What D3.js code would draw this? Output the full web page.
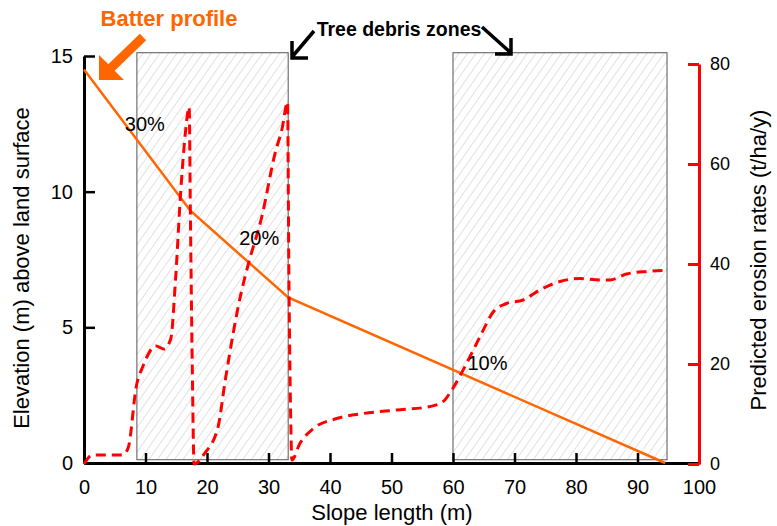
<!DOCTYPE html>
<html>
<head>
<meta charset="utf-8">
<script src="https://cdn.jsdelivr.net/npm/d3@7"></script>
<style>
  body { margin: 0; background: #fff; }
  svg { display: block; font-family: "Liberation Sans", Arial, sans-serif; }
</style>
</head>
<body>
<svg width="777" height="526"></svg>
<script>
// batter profile (elevation, left axis)
var profileX = [0, 17.3, 33.2, 94.5];
var profileY = [14.5, 9.3, 6.1, 0];

// predicted erosion (right axis)
var erosionX = [0, 1.4, 6.3, 7.2, 8.5, 9.6, 11.7, 13.0, 14.1, 14.9, 15.7, 16.5, 17.1, 17.3, 17.6, 17.9,
  19.6, 21.8, 22.9, 25.6, 26.7, 28.9, 31.1, 32.2, 33.1, 33.3, 33.6, 33.8,
  35.1, 37.3, 41.1, 45.4, 50.8, 56.3, 58.4, 59.8, 62.2, 64.4, 66.6, 68.7, 71.4, 74.1, 77.4, 80.7, 83.9, 85.5, 88.2, 91.5, 94.2];
var erosionY = [0, 1.8, 1.8, 3.3, 15.5, 19.6, 23.6, 23.0, 25, 37.2, 54, 66.4, 71.4, 50, 20, 0,
  2.1, 7.4, 16.2, 34.5, 39.9, 49.4, 62.3, 67, 72.4, 40, 10, 0.8,
  4.1, 7.1, 9.1, 10.1, 10.8, 11.5, 12.5, 14.8, 20.1, 25.5, 30.5, 32.1, 32.8, 34.8, 36.5, 37.1, 36.8, 36.8, 38, 38.5, 38.7];

// tree debris zones (slope length)
var zoneStart = [8.6, 60];
var zoneEnd = [33.2, 94.8];

var gradeLabels = ["30%", "20%", "10%"];
var gradeAt = [[9.9, 12.5], [28.5, 8.3], [65.6, 3.7]];

var xTicks = d3.range(0, 101, 10);
var elevTicks = [0, 5, 10, 15];
var erosionTicks = [0, 20, 40, 60, 80];

var svg = d3.select("svg");
var orange = "#ff6600", red = "#ff0000";

var x = d3.scaleLinear().domain([0, 100]).range([84, 699]);
var y = d3.scaleLinear().domain([0, 15]).range([463, 56]);
var y2 = d3.scaleLinear().domain([0, 80]).range([464, 64]);

// hatch
var defs = svg.append("defs");
defs.append("pattern")
  .attr("id", "hatch")
  .attr("patternUnits", "userSpaceOnUse")
  .attr("width", 7).attr("height", 7)
  .attr("patternTransform", "rotate(35)")
  .append("line")
  .attr("x1", 0).attr("y1", 0).attr("x2", 0).attr("y2", 7)
  .attr("stroke", "#c4c4c4").attr("stroke-width", 1);

var zones = zoneStart.map(function(d, i) { return [d, zoneEnd[i]]; });
svg.selectAll("rect.zone")
  .data(zones)
  .enter().append("rect")
  .attr("class", "zone")
  .attr("x", function(d) { return x(d[0]); })
  .attr("width", function(d) { return x(d[1]) - x(d[0]); })
  .attr("y", y(15.12))
  .attr("height", y(0.12) - y(15.12))
  .attr("fill", "url(#hatch)")
  .attr("stroke", "#555")
  .attr("stroke-width", 1);

// axes
var gx = svg.append("g").attr("transform", "translate(0," + y(0) + ")");
gx.call(d3.axisBottom(x).tickValues(d3.range(5, 100, 10)).tickSize(-6).tickSizeOuter(0).tickFormat(""));
gx.call(d3.axisBottom(x).tickValues(xTicks).tickSize(-10).tickSizeOuter(0).tickPadding(17));
gx.selectAll(".domain").attr("stroke-width", 3);
gx.selectAll(".tick line").attr("stroke-width", 2.5);

var gy = svg.append("g").attr("transform", "translate(" + x(0) + ",0)");
gy.call(d3.axisLeft(y).tickValues(d3.range(0, 16, 1)).tickSize(-7).tickSizeOuter(0).tickFormat(""));
gy.call(d3.axisLeft(y).tickValues(elevTicks).tickSize(-11).tickSizeOuter(0).tickPadding(11));
gy.selectAll(".domain").attr("stroke-width", 3);
gy.selectAll(".tick line").attr("stroke-width", 2.5);

var gy2 = svg.append("g").attr("transform", "translate(" + x(100) + ",0)");
gy2.call(d3.axisRight(y2).tickValues(d3.range(10, 80, 20)).tickSize(-6).tickSizeOuter(0).tickFormat(""));
gy2.call(d3.axisRight(y2).tickValues(erosionTicks).tickSize(-11).tickSizeOuter(0).tickPadding(11));
gy2.selectAll(".domain").attr("stroke", red).attr("stroke-width", 3);
gy2.selectAll(".tick line").attr("stroke", red).attr("stroke-width", 3);

svg.selectAll(".tick text").attr("font-size", 20).attr("fill", "#000");
gy2.selectAll(".tick text").attr("font-size", 18);
svg.selectAll("g").attr("font-family", null);

// profile line
var profile = profileX.map(function(d, i) { return [d, profileY[i]]; });
svg.append("path")
  .datum(profile)
  .attr("fill", "none")
  .attr("stroke", orange)
  .attr("stroke-width", 2.5)
  .attr("d", d3.line().x(function(d) { return x(d[0]); }).y(function(d) { return y(d[1]); }));

// erosion line
var erosion = erosionX.map(function(d, i) { return [d, erosionY[i]]; });
svg.append("path")
  .datum(erosion)
  .attr("fill", "none")
  .attr("stroke", red)
  .attr("stroke-width", 3)
  .attr("stroke-dasharray", "10,6")
  .attr("d", d3.line().curve(d3.curveMonotoneX)
    .x(function(d) { return x(d[0]); }).y(function(d) { return y2(d[1]); }));

// grade labels
svg.selectAll("text.grade")
  .data(gradeLabels)
  .enter().append("text")
  .attr("class", "grade")
  .attr("x", function(d, i) { return x(gradeAt[i][0]); })
  .attr("y", function(d, i) { return y(gradeAt[i][1]); })
  .attr("dy", "0.35em")
  .attr("text-anchor", "middle")
  .attr("font-size", 20)
  .text(function(d) { return d; });

// axis titles
svg.append("text")
  .attr("x", 392).attr("y", 520)
  .attr("text-anchor", "middle")
  .attr("font-size", 22)
  .text("Slope length (m)");

svg.append("text")
  .attr("transform", "translate(29,268) rotate(-90)")
  .attr("text-anchor", "middle")
  .attr("font-size", 22)
  .text("Elevation (m) above land surface");

svg.append("text")
  .attr("transform", "translate(766,260) rotate(-90)")
  .attr("text-anchor", "middle")
  .attr("font-size", 22)
  .text("Predicted erosion rates (t/ha/y)");

// annotations
svg.append("text")
  .attr("x", 169).attr("y", 26)
  .attr("text-anchor", "middle")
  .attr("font-size", 22).attr("font-weight", "bold")
  .attr("fill", orange)
  .text("Batter profile");

svg.append("polygon")
  .attr("points", "99,80 99,55 108.3,64.3 139.8,33.8 146.2,40.2 114.7,70.7 124,80")
  .attr("fill", orange);

svg.append("text")
  .attr("x", 399).attr("y", 36)
  .attr("text-anchor", "middle")
  .attr("font-size", 19.5).attr("font-weight", "bold")
  .text("Tree debris zones");

var arrowPaths = ["M314,31 L292,57 M292,41 L292,58 L308,58", "M482,27 L511,53 M511,38 L511,54 L495,54"];
svg.selectAll("path.arrow")
  .data(arrowPaths)
  .enter().append("path")
  .attr("class", "arrow")
  .attr("d", function(d) { return d; })
  .attr("fill", "none")
  .attr("stroke", "#000")
  .attr("stroke-width", 3.5);
</script>
</body>
</html>
